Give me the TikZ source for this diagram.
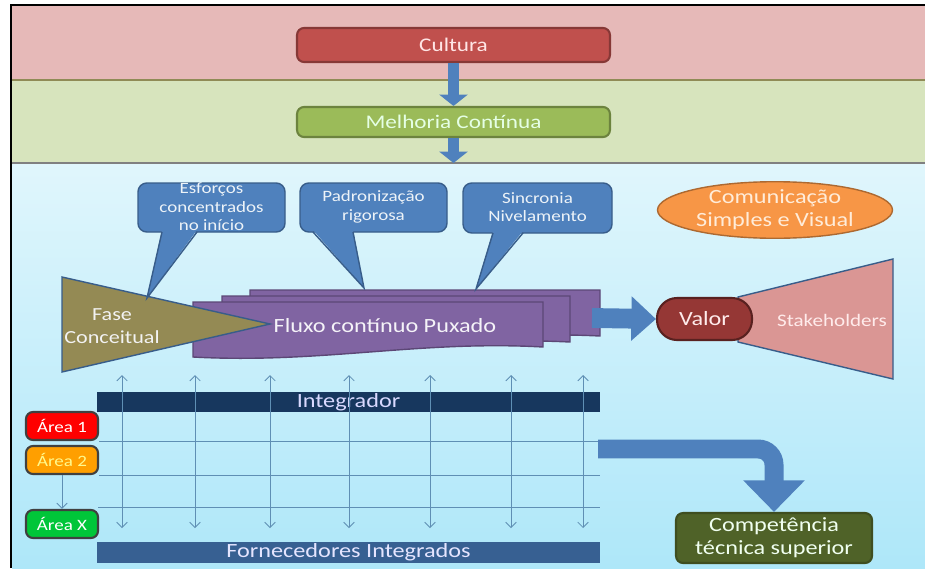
\documentclass[tikz,border=0pt]{standalone}
\usepackage{fontspec}
\setmainfont{Carlito}[FakeStretch=1.2]
\usetikzlibrary{arrows.meta,shapes.geometric}
\definecolor{faixarosa}{HTML}{E6B9B8}
\definecolor{faixaverde}{HTML}{D7E4BD}
\definecolor{ceutopo}{HTML}{E0F6FC}
\definecolor{ceubase}{HTML}{AEE7F9}
\definecolor{vermelho}{HTML}{C0504D}
\definecolor{verde}{HTML}{9BBB59}
\definecolor{azul}{HTML}{4F81BD}
\definecolor{azulescuro}{HTML}{385D8A}
\definecolor{laranja}{HTML}{F79646}
\definecolor{oliva}{HTML}{948A54}
\definecolor{roxo}{HTML}{8064A2}
\definecolor{roxoescuro}{HTML}{5C4776}
\definecolor{vinho}{HTML}{953735}
\definecolor{salmao}{HTML}{DA9694}
\definecolor{marinho}{HTML}{17375E}
\definecolor{anil}{HTML}{376092}
\definecolor{musgo}{HTML}{4F6228}
\definecolor{gradecor}{HTML}{5F8FB4}
\definecolor{bordacinza}{HTML}{404040}
\begin{document}
\begin{tikzpicture}[x=0.02cm,y=-0.02cm,
    caixa/.style={draw,rounded corners=4pt,line width=1.2pt,align=center,inner sep=0pt},
    seta/.style={azul,line width=6.2pt,-{Triangle[width=16pt,length=6.5pt]}},
    balao/.style={fill=azul,draw=azulescuro,line width=0.8pt,rounded corners=5pt},
    textobalao/.style={align=center,font=\fontsize{9}{10.6}\selectfont,text=white!90!azul},
    area/.style={caixa,draw=bordacinza,minimum width=1.44cm,minimum height=0.56cm,font=\fontsize{9}{10}\selectfont},
    barra/.style={inner sep=0pt,minimum width=10.06cm,font=\fontsize{11.5}{12}\selectfont},
    linhagrade/.style={gradecor,line width=0.5pt},
    setagrade/.style={gradecor,line width=0.5pt,{Straight Barb[length=3pt,width=6pt]}-{Straight Barb[length=3pt,width=6pt]}}
  ]
  \useasboundingbox (0,0) rectangle (925,568);
  \fill[white] (0,0) rectangle (925,568);
  \fill[faixarosa] (12,6) rectangle (925,80);
  \fill[faixaverde] (12,80) rectangle (925,163);
  \shade[top color=ceutopo,bottom color=ceubase] (12,163) rectangle (925,568);
  \draw[olive!40!gray,line width=0.8pt] (12,80) -- (925,80);
  \draw[gray,line width=0.8pt] (12,163) -- (925,163);
  \draw[black,line width=1.6pt] (11,568) -- (11,5) -- (925,5);

  \node[caixa,fill=vermelho,draw=vermelho!70!black,minimum width=6.26cm,minimum height=0.68cm,
    font=\fontsize{11}{12}\selectfont,text=white!90!red] (cultura) at (453.5,45) {Cultura};
  \node[caixa,fill=verde,draw=verde!70!black,minimum width=6.26cm,minimum height=0.6cm,
    font=\fontsize{11}{12}\selectfont,text=white!90!green] (melhoria) at (453.5,122) {Melhoria Contínua};
  \coordinate (ceu) at (453.5,163);
  \draw[seta] (cultura) -- (melhoria);
  \draw[seta] (melhoria) -- (ceu);

  \node[ellipse,fill=laranja,draw=laranja!70!black,line width=0.8pt,minimum width=4.7cm,minimum height=0.92cm,
    inner sep=0pt,align=center,font=\fontsize{11.5}{13}\selectfont,text=orange!15!white] (comunicacao) at (775,210)
    {Comunicação\\Simples e Visual};

  \filldraw[fill=roxo,draw=roxoescuro,line width=0.8pt] (250,290) -- (600,290) -- (600,336)
    .. controls (480,330) and (380,352) .. (250,345) -- cycle;
  \filldraw[fill=roxo,draw=roxoescuro,line width=0.8pt] (222,296) -- (570,296) -- (570,342)
    .. controls (450,336) and (350,358) .. (222,351) -- cycle;
  \filldraw[fill=roxo,draw=roxoescuro,line width=0.8pt] (193,302) -- (543,302) -- (543,347)
    .. controls (420,340) and (320,364) .. (193,357) -- cycle;
  \node[font=\fontsize{11.5}{12}\selectfont,text=white!92!roxo] (fluxo) at (385,326) {Fluxo contínuo Puxado};
  \filldraw[fill=oliva,draw=azulescuro,line width=0.8pt] (62,277) -- (270,324) -- (62,372) -- cycle;
  \node[align=center,font=\fontsize{10.5}{13}\selectfont,text=white!95!black] (fase) at (112,326) {Fase\\Conceitual};

  \draw[balao] (138,183) rectangle (285,232);
  \fill[azul] (162,230) -- (147,298) -- (197,230) -- cycle;
  \draw[azulescuro,line width=0.8pt] (162,232) -- (147,298) -- (197,232);
  \node[textobalao] (esforcos) at (211.5,207) {Esforços\\concentrados\\no início};
  \draw[balao] (300,183) rectangle (447,232);
  \fill[azul] (313,230) -- (364,288) -- (353,230) -- cycle;
  \draw[azulescuro,line width=0.8pt] (313,232) -- (364,288) -- (353,232);
  \node[textobalao] (padronizacao) at (373.5,207) {Padronização\\rigorosa};
  \draw[balao] (463,183) rectangle (612,233);
  \fill[azul] (493,231) -- (476,289) -- (523,231) -- cycle;
  \draw[azulescuro,line width=0.8pt] (493,233) -- (476,289) -- (523,233);
  \node[textobalao] (sincronia) at (537.5,207) {Sincronia\\Nivelamento};

  \filldraw[fill=salmao,draw=azulescuro,line width=0.8pt] (738,297) -- (893,259) -- (893,379) -- (738,342) -- cycle;
  \node[font=\fontsize{10}{12}\selectfont,text=red!8!white] (stakeholders) at (832,320) {Stakeholders};
  \node[draw=vinho!60!black,fill=vinho,line width=1.2pt,rounded corners=0.4cm,minimum width=1.9cm,
    minimum height=0.84cm,font=\fontsize{11.5}{12}\selectfont,text=red!8!white] (valor) at (704.5,319) {Valor};
  \coordinate (saidafluxo) at (592,318);
  \draw[azul,line width=11.3pt,-{Triangle[width=24.5pt,length=14pt]}] (saidafluxo) -- (valor.west);

  \node[barra,fill=marinho,minimum height=0.4cm,text=blue!15!white] (integrador) at (348.5,402) {Integrador};
  \node[barra,fill=anil,minimum height=0.42cm,text=blue!10!white] (fornecedores) at (348.5,552.5) {Fornecedores Integrados};
  \node[area,fill=red,text=white] (area1) at (62,426) {Área 1};
  \node[area,fill=orange!75!yellow,text=yellow!45!white] (area2) at (62,460) {Área 2};
  \node[area,fill=green!55!teal,text=white] (areax) at (62,524) {Área X};
  \draw[linhagrade] (area1.south east) -- (area1.south east -| integrador.east);
  \draw[linhagrade] (area2.south east) -- (area2.south east -| integrador.east);
  \draw[linhagrade] (98,507) -- (600,507);
  \foreach \x in {122,195,270,349,430,511,583}
    \draw[setagrade] (\x,375) -- (\x,528);
  \draw[linhagrade,-{Straight Barb[length=3pt,width=6pt]}] (area2) -- (areax);

  \node[caixa,fill=musgo,draw=musgo!80!black,minimum width=3.92cm,minimum height=1cm,
    font=\fontsize{11.5}{13}\selectfont,text=green!6!white] (competencia) at (774,538) {Competência\\técnica superior};
  \coordinate (saidagrade) at (598,449);
  \draw[azul,line width=10.8pt,rounded corners=9pt,-{Triangle[width=34pt,length=18pt]}]
    (saidagrade) -- (774,449) -- (competencia.north);
\end{tikzpicture}
\end{document}
